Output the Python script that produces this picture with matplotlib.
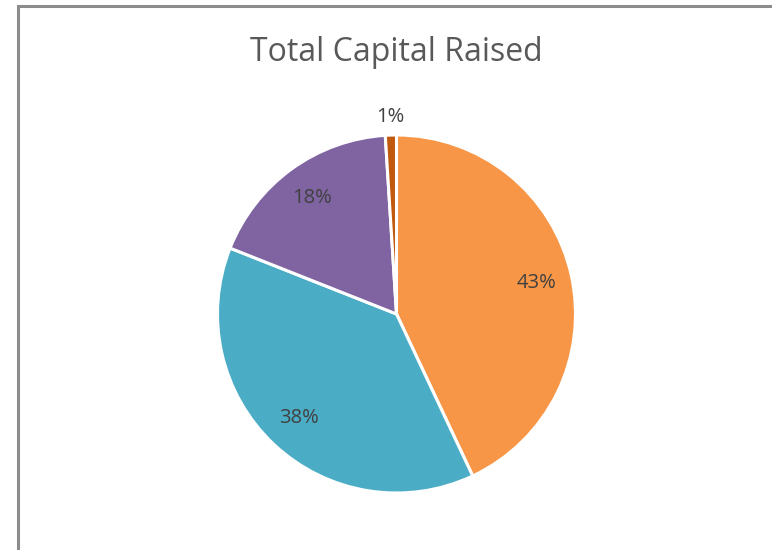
import numpy as np
import matplotlib.pyplot as plt
from matplotlib.patches import Rectangle

# Data
labels = ["A", "B", "C", "D"]
shares = [43, 38, 18, 1]
colors = ["#F79646", "#4BACC6", "#8064A2", "#C0580E"]

plt.rcParams['font.family'] = ['Open Sans', 'DejaVu Sans']

H = 550
cx, cy, R = 396.5, H - 314, 179

fig = plt.figure(figsize=(7.72, 5.5), dpi=100)
ax = fig.add_axes([0, 0, 1, 1])

wedges, texts, autotexts = ax.pie(
    shares, colors=colors, startangle=90, counterclock=False,
    center=(cx, cy), radius=R,
    autopct=lambda p: f"{p:.0f}%", pctdistance=0.80,
    wedgeprops=dict(edgecolor="white", linewidth=2.2),
    textprops=dict(color="#404040", fontsize=14.5))

# small slice label outside
w = wedges[-1]
mid = np.deg2rad((w.theta1 + w.theta2) / 2)
r = R * 1.1
autotexts[-1].set_position((cx + r * np.cos(mid), cy + r * np.sin(mid)))

# pixel-like coordinates (y up)
ax.set_xlim(0, 772)
ax.set_ylim(0, H)
ax.set_aspect('auto')
ax.axis('off')

# chart frame (cut off at right and bottom like the screenshot)
ax.add_patch(Rectangle((18, -100), 900, H - 6 + 100, fill=False,
                       edgecolor="#8C8C8C", lw=2.2, clip_on=False))

ax.text(396, H - 61, "Total Capital Raised", ha="center", va="baseline",
        fontsize=23, color="#595959")

fig.savefig("out.png", dpi=100)
